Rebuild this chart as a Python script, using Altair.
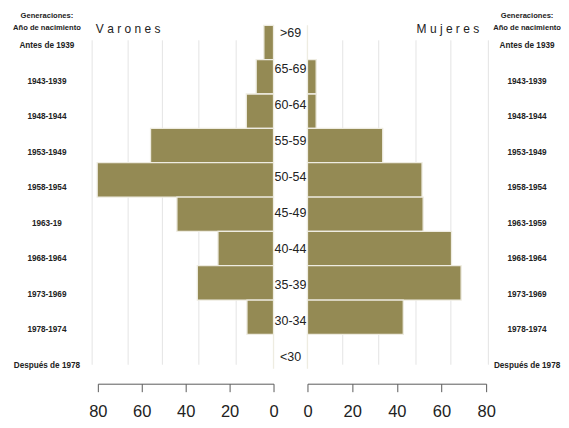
import altair as alt
import pandas as pd

# ---- data ----
ages = [">69", "65-69", "60-64", "55-59", "50-54", "45-49", "40-44", "35-39", "30-34", "<30"]
gen_left = ["Antes de 1939", "1943-1939", "1948-1944", "1953-1949", "1958-1954",
            "1963-19", "1968-1964", "1973-1969", "1978-1974", "Después de 1978"]
gen_right = ["Antes de 1939", "1943-1939", "1948-1944", "1953-1949", "1958-1954",
             "1963-1959", "1968-1964", "1973-1969", "1978-1974", "Después de 1978"]
varones = [4.4, 7.9, 12.4, 56.0, 80.3, 44.0, 25.3, 34.7, 12.1, 0.0]
mujeres = [0.0, 3.9, 3.9, 33.7, 51.3, 51.8, 64.5, 68.8, 42.9, 0.0]
axis_ticks = [0, 20, 40, 60, 80]
grid_varones = [0, 17.0, 34.0, 50.6, 66.2, 82.6]
grid_mujeres = [0, 15.8, 31.9, 48.6, 64.2, 81.0]
header = ["Generaciones:", "Año de nacimiento"]

# ---- styles ----
FONT = "Liberation Sans, Arial, sans-serif"
BAR = "#948A54"
BAR_STROKE = "#EEECE1"
GRID = "#E4E4E4"
TEXT = "#222222"
H = 344

df_m = pd.DataFrame({"age": ages, "v": varones})
df_f = pd.DataFrame({"age": ages, "v": mujeres})
df_gm = pd.DataFrame({"v": grid_varones})
df_gf = pd.DataFrame({"v": grid_mujeres})
df_ages = pd.DataFrame({"age": ages})
df_genl = pd.DataFrame({"g": gen_left, "age": ages})
df_genr = pd.DataFrame({"g": gen_right, "age": ages})
df_head = pd.DataFrame({"h": header})


def bottom_axis():
    return alt.Axis(values=axis_ticks, grid=False, offset=15, tickSize=8,
                    domainColor="#5a5a5a", tickColor="#5a5a5a", domainWidth=1,
                    labelFont=FONT, labelFontSize=16.5, labelColor=TEXT,
                    labelPadding=12, labelFlush=False, labelOverlap=False)


def side_panel(width, reverse, df_bars, df_grid, label, label_align, label_x):
    xs = alt.Scale(domain=[0, 80], reverse=reverse, nice=False, zero=True)
    grid = alt.Chart(df_grid).mark_rule(color=GRID, strokeWidth=1).encode(
        x=alt.X("v:Q", scale=xs, axis=bottom_axis(), title=None),
        y=alt.value(15), y2=alt.value(340))
    bars = alt.Chart(df_bars).mark_bar(color=BAR, stroke=BAR_STROKE, strokeWidth=1.3).encode(
        x=alt.X("v:Q", scale=xs, axis=bottom_axis(), title=None),
        y=alt.Y("age:N", sort=ages, axis=None,
                scale=alt.Scale(paddingInner=0, paddingOuter=0)))
    lab = alt.Chart(pd.DataFrame({"t": [label]})).mark_text(
        align=label_align, fontSize=12, font=FONT, color=TEXT).encode(
        text="t:N", x=alt.value(label_x), y=alt.value(4))
    return alt.layer(grid, bars, lab).properties(width=width, height=H)


def gen_panel(width, df_gen, cx):
    labels = alt.Chart(df_gen).mark_text(
        font=FONT, fontSize=8.2, fontWeight="bold", color=TEXT).encode(
        y=alt.Y("age:N", sort=ages, axis=None,
                scale=alt.Scale(type="point", padding=0, range=[21, 341])),
        x=alt.value(cx), text="g:N")
    head = alt.Chart(df_head).mark_text(
        font=FONT, fontSize=7.6, fontWeight="bold", color=TEXT).encode(
        y=alt.Y("h:N", sort=header, axis=None,
                scale=alt.Scale(type="point", padding=0, range=[-9, 3])),
        x=alt.value(cx), text="h:N")
    return alt.layer(labels, head).resolve_scale(y="independent").properties(width=width, height=H)


left_gen = gen_panel(90, df_genl, 39)
male = side_panel(176, True, df_m, df_gm, "V a r o n e s", "left", -2)
center = alt.Chart(df_ages).mark_text(font=FONT, fontSize=12.5, color=TEXT).encode(
    y=alt.Y("age:N", sort=ages, axis=None,
            scale=alt.Scale(type="point", padding=0, range=[8, 332])),
    x=alt.value(17), text="age:N").properties(width=34, height=H)
female = side_panel(179, False, df_f, df_gf, "M u j e r e s", "right", 172)
right_gen = gen_panel(74, df_genr, 41)

chart = alt.hconcat(left_gen, male, center, female, right_gen, spacing=0, bounds="flush").resolve_scale(
    x="independent", y="independent").configure_view(stroke=None).properties(
    padding={"top": 4, "left": 0, "right": 0, "bottom": 0})

chart.save("out.html", embed_options={"renderer": "svg", "actions": False})
